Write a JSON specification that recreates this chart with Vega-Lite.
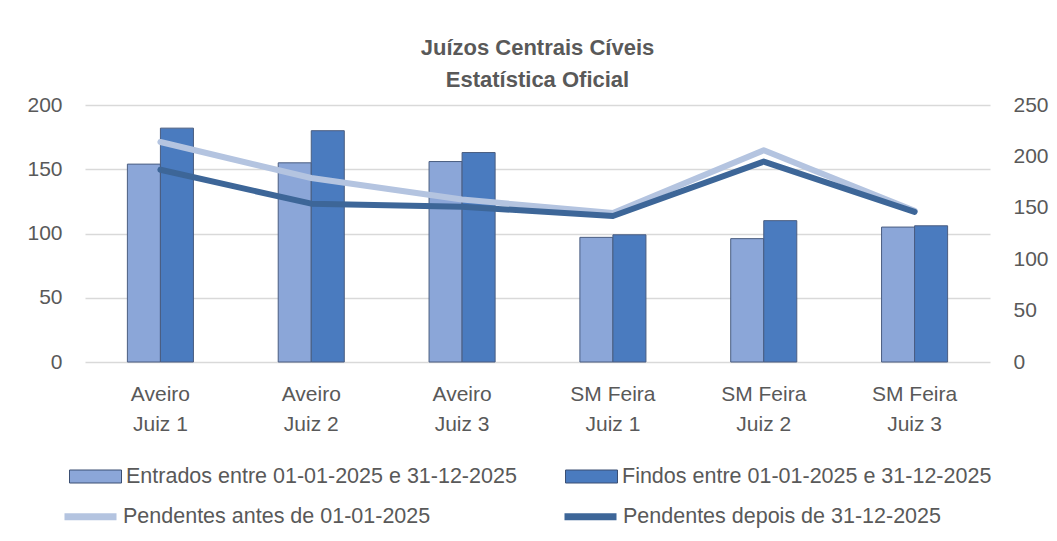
{
  "$schema": "https://vega.github.io/schema/vega-lite/v6.json",
  "width": 905,
  "height": 257,
  "autosize": {"type": "none"},
  "padding": {"left": 85, "top": 105, "right": 67, "bottom": 179},
  "background": "white",
  "config": {"font": "Liberation Sans", "view": {"stroke": null}},
  "title": {
    "text": ["Juízos Centrais Cíveis", "Estatística Oficial"],
    "anchor": "middle",
    "frame": "group",
    "fontSize": 22,
    "fontWeight": "bold",
    "color": "#595959",
    "lineHeight": 32,
    "offset": 2
  },
  "datasets": {
    "barras": [
      {"tribunal": "Aveiro Juiz 1", "serie": "Entrados entre 01-01-2025 e 31-12-2025", "valor": 154},
      {"tribunal": "Aveiro Juiz 1", "serie": "Findos entre 01-01-2025 e 31-12-2025", "valor": 182},
      {"tribunal": "Aveiro Juiz 2", "serie": "Entrados entre 01-01-2025 e 31-12-2025", "valor": 155},
      {"tribunal": "Aveiro Juiz 2", "serie": "Findos entre 01-01-2025 e 31-12-2025", "valor": 180},
      {"tribunal": "Aveiro Juiz 3", "serie": "Entrados entre 01-01-2025 e 31-12-2025", "valor": 156},
      {"tribunal": "Aveiro Juiz 3", "serie": "Findos entre 01-01-2025 e 31-12-2025", "valor": 163},
      {"tribunal": "SM Feira Juiz 1", "serie": "Entrados entre 01-01-2025 e 31-12-2025", "valor": 97},
      {"tribunal": "SM Feira Juiz 1", "serie": "Findos entre 01-01-2025 e 31-12-2025", "valor": 99},
      {"tribunal": "SM Feira Juiz 2", "serie": "Entrados entre 01-01-2025 e 31-12-2025", "valor": 96},
      {"tribunal": "SM Feira Juiz 2", "serie": "Findos entre 01-01-2025 e 31-12-2025", "valor": 110},
      {"tribunal": "SM Feira Juiz 3", "serie": "Entrados entre 01-01-2025 e 31-12-2025", "valor": 105},
      {"tribunal": "SM Feira Juiz 3", "serie": "Findos entre 01-01-2025 e 31-12-2025", "valor": 106}
    ],
    "linhas": [
      {"tribunal": "Aveiro Juiz 1", "serie": "Pendentes antes de 01-01-2025", "valor": 214},
      {"tribunal": "Aveiro Juiz 2", "serie": "Pendentes antes de 01-01-2025", "valor": 179},
      {"tribunal": "Aveiro Juiz 3", "serie": "Pendentes antes de 01-01-2025", "valor": 158},
      {"tribunal": "SM Feira Juiz 1", "serie": "Pendentes antes de 01-01-2025", "valor": 145},
      {"tribunal": "SM Feira Juiz 2", "serie": "Pendentes antes de 01-01-2025", "valor": 206},
      {"tribunal": "SM Feira Juiz 3", "serie": "Pendentes antes de 01-01-2025", "valor": 147},
      {"tribunal": "Aveiro Juiz 1", "serie": "Pendentes depois de 31-12-2025", "valor": 187},
      {"tribunal": "Aveiro Juiz 2", "serie": "Pendentes depois de 31-12-2025", "valor": 154},
      {"tribunal": "Aveiro Juiz 3", "serie": "Pendentes depois de 31-12-2025", "valor": 151},
      {"tribunal": "SM Feira Juiz 1", "serie": "Pendentes depois de 31-12-2025", "valor": 142},
      {"tribunal": "SM Feira Juiz 2", "serie": "Pendentes depois de 31-12-2025", "valor": 195},
      {"tribunal": "SM Feira Juiz 3", "serie": "Pendentes depois de 31-12-2025", "valor": 146}
    ]
  },
  "layer": [
    {
      "data": {"name": "barras"},
      "mark": {"type": "bar", "stroke": "#4a5d80", "strokeWidth": 1},
      "encoding": {
        "x": {
          "field": "tribunal",
          "type": "nominal",
          "sort": null,
          "scale": {"paddingInner": 0.562, "paddingOuter": 0.281},
          "axis": {
            "title": null,
            "labelAngle": 0,
            "labelExpr": "split(replace(datum.label, ' Juiz', '|Juiz'), '|')",
            "labelPadding": 21,
            "labelLineHeight": 30,
            "labelFontSize": 21,
            "labelColor": "#595959",
            "ticks": false,
            "domain": false,
            "labelLimit": 300
          }
        },
        "xOffset": {"field": "serie", "type": "nominal", "sort": null, "scale": {"paddingInner": 0}},
        "y": {
          "field": "valor",
          "type": "quantitative",
          "scale": {"domain": [0, 200]},
          "axis": {
            "title": null,
            "values": [0, 50, 100, 150, 200],
            "domain": false,
            "ticks": false,
            "labelPadding": 23,
            "labelFontSize": 21,
            "labelColor": "#595959",
            "gridColor": "#d9d9d9",
            "gridWidth": 1.3
          }
        },
        "fill": {
          "field": "serie",
          "type": "nominal",
          "sort": null,
          "scale": {
            "domain": ["Entrados entre 01-01-2025 e 31-12-2025", "Findos entre 01-01-2025 e 31-12-2025"],
            "range": ["#8ba6d8", "#4a7bbf"]
          },
          "legend": {
            "orient": "none",
            "legendX": -16,
            "legendY": 345,
            "direction": "horizontal",
            "title": null,
            "symbolType": "M-1,-0.25H1V0.25H-1Z",
            "symbolSize": 2704,
            "symbolStrokeColor": "#3b4f73",
            "symbolStrokeWidth": 1,
            "labelFontSize": 21.5,
            "labelColor": "#595959",
            "labelOffset": 4,
            "labelLimit": 600,
            "columnPadding": 46,
            "padding": 0
          }
        }
      }
    },
    {
      "data": {"name": "linhas"},
      "mark": {"type": "line", "strokeWidth": 6, "strokeCap": "round", "strokeJoin": "round"},
      "encoding": {
        "x": {"field": "tribunal", "type": "nominal", "sort": null},
        "y": {
          "field": "valor",
          "type": "quantitative",
          "scale": {"domain": [0, 250]},
          "axis": {
            "orient": "right",
            "title": null,
            "values": [0, 50, 100, 150, 200, 250],
            "grid": false,
            "domain": false,
            "ticks": false,
            "labelPadding": 23,
            "labelFontSize": 21,
            "labelColor": "#595959"
          }
        },
        "stroke": {
          "field": "serie",
          "type": "nominal",
          "sort": null,
          "scale": {
            "domain": ["Pendentes antes de 01-01-2025", "Pendentes depois de 31-12-2025"],
            "range": ["#b4c4e0", "#3d6698"]
          },
          "legend": {
            "orient": "none",
            "legendX": -24,
            "legendY": 382,
            "direction": "horizontal",
            "title": null,
            "symbolType": "stroke",
            "symbolSize": 2704,
            "symbolStrokeWidth": 7,
            "labelFontSize": 21.5,
            "labelColor": "#595959",
            "labelOffset": 3,
            "labelLimit": 600,
            "columnPadding": 119,
            "padding": 0
          }
        }
      }
    }
  ],
  "resolve": {"scale": {"y": "independent"}}
}
